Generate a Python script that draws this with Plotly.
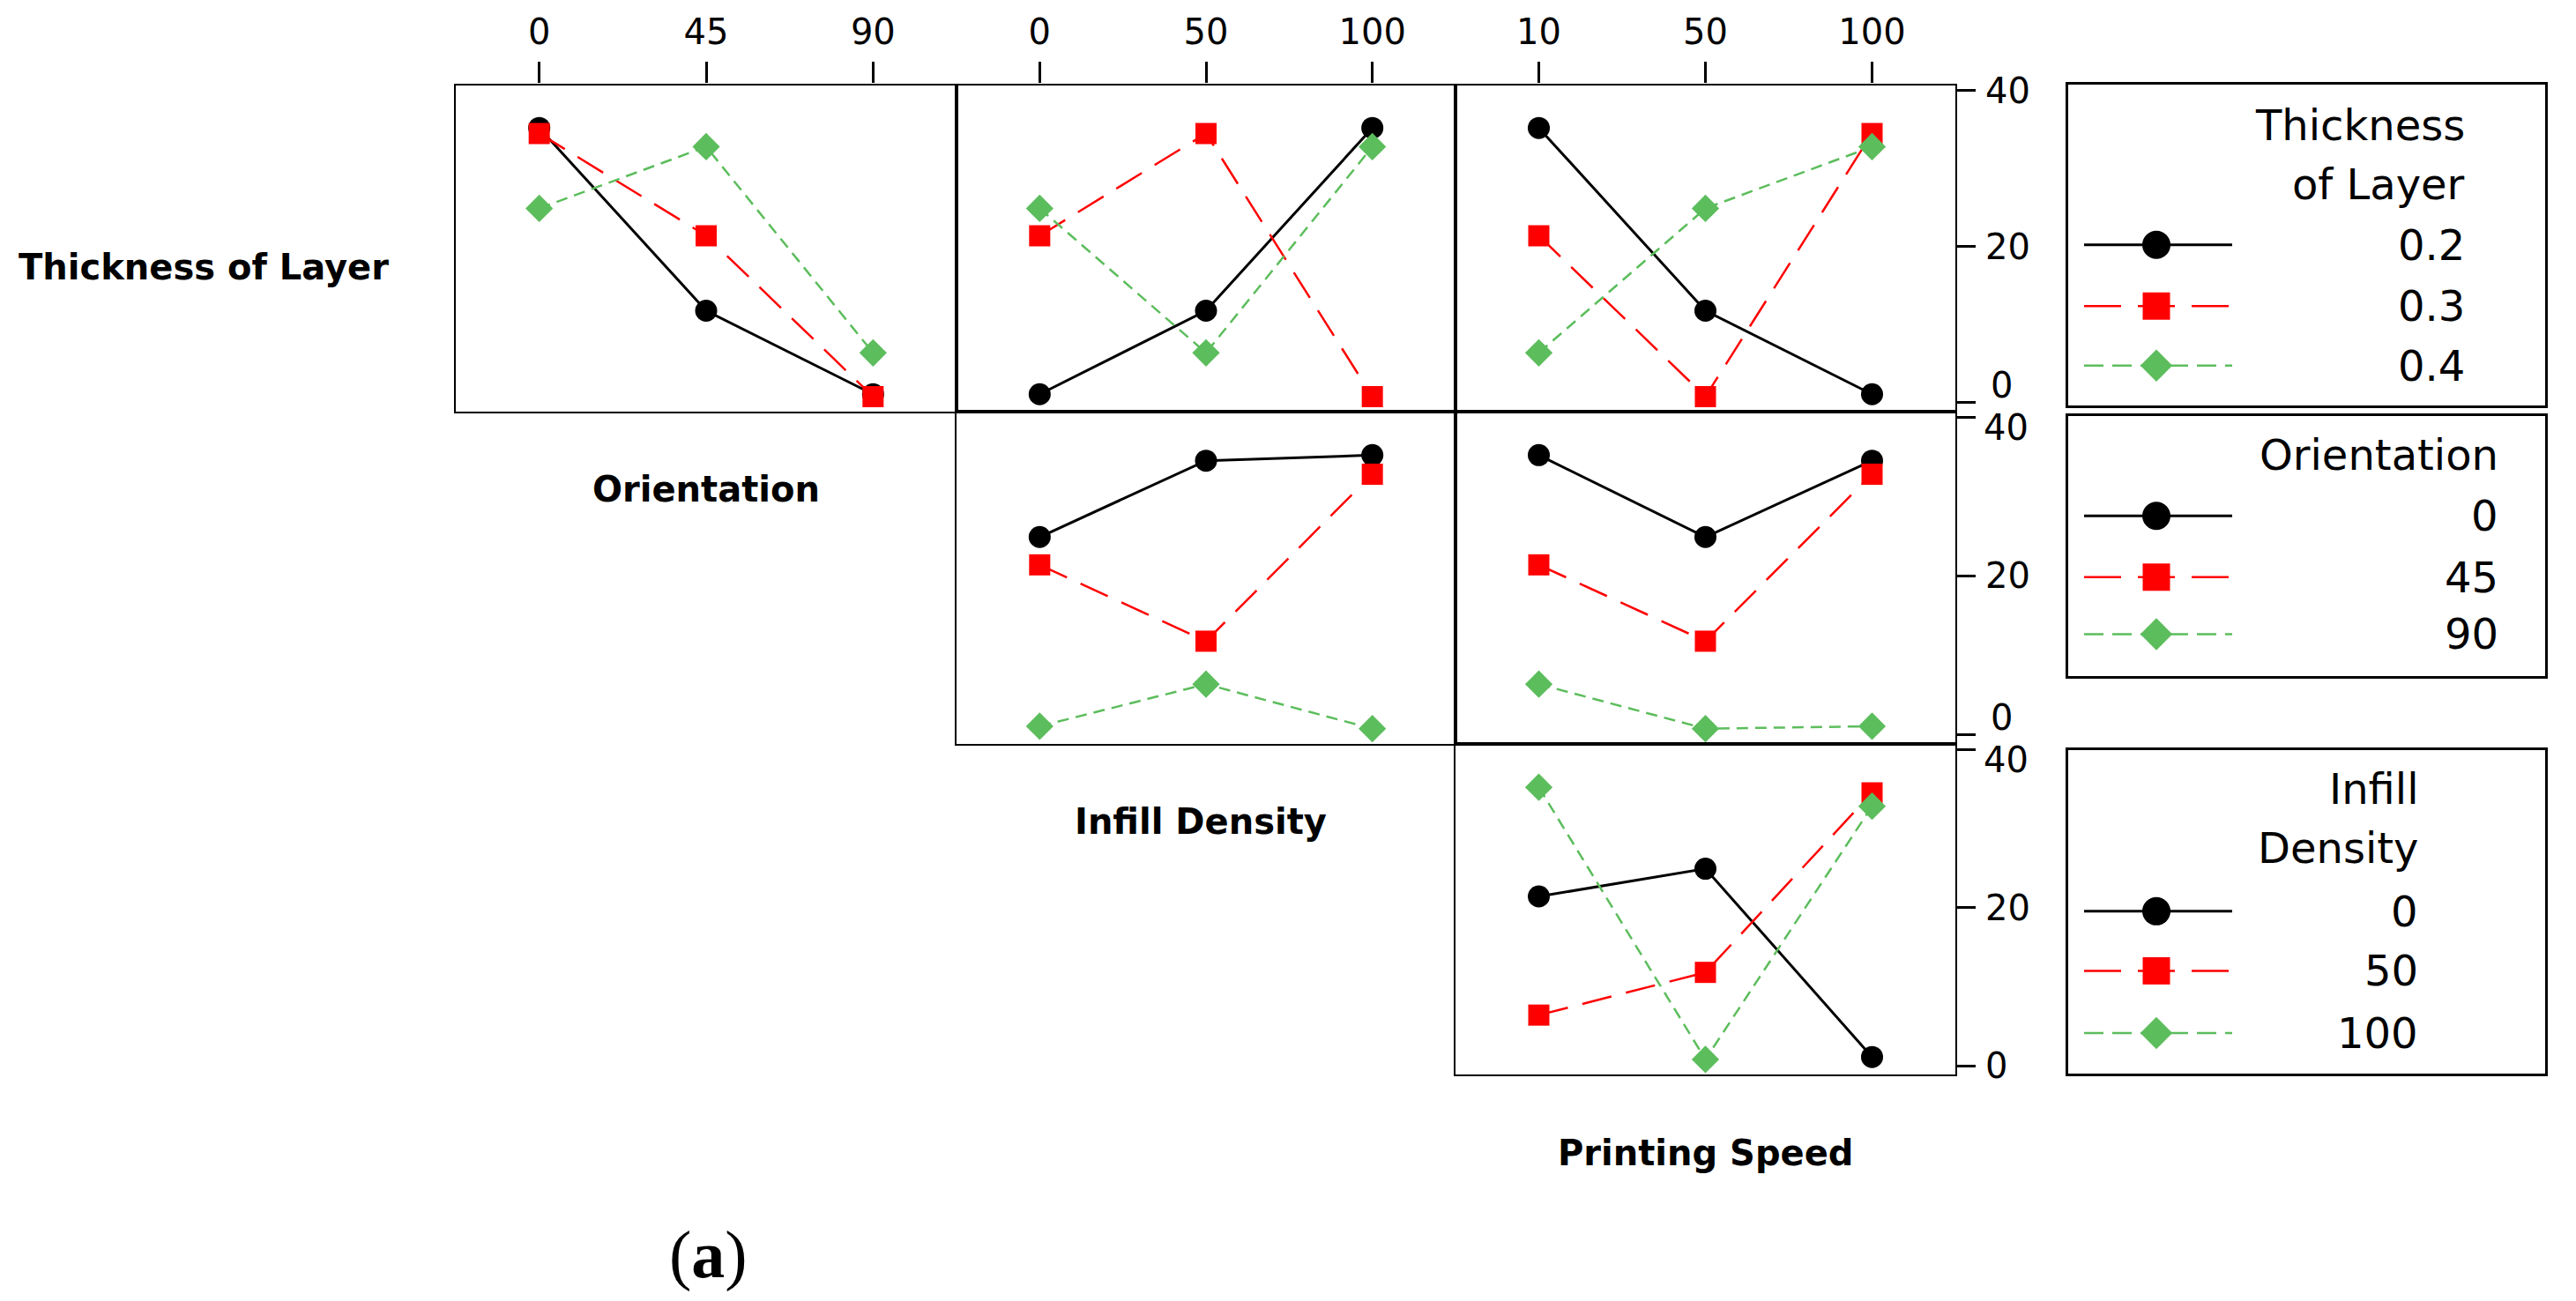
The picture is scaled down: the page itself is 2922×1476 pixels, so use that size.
import plotly.graph_objects as go

W, H = 2922, 1476          # browser window
BODY = 8                   # default page margin around the plot div
FW, FH = W - 2 * BODY, H - 2 * BODY

# ---------------- data ----------------
thickness_levels = ["0.2", "0.3", "0.4"]
orientation_levels = ["0", "45", "90"]
infill_levels = ["0", "50", "100"]
speed_levels = ["10", "50", "100"]

# Row 1 - series: Thickness of Layer (0.2, 0.3, 0.4)
thk_by_orientation = [[35.2, 11.8, 1.1], [34.5, 21.4, 0.8], [24.9, 32.8, 6.4]]
thk_by_infill = [[1.1, 11.8, 35.2], [21.4, 34.5, 0.8], [24.9, 6.4, 32.8]]
thk_by_speed = [[35.2, 11.8, 1.1], [21.4, 0.8, 34.5], [6.4, 24.9, 32.8]]
# Row 2 - series: Orientation (0, 45, 90)
ori_by_infill = [[24.9, 34.5, 35.2], [21.4, 11.8, 32.8], [1.1, 6.4, 0.8]]
ori_by_speed = [[35.2, 24.9, 34.5], [21.4, 11.8, 32.8], [6.4, 0.8, 1.1]]
# Row 3 - series: Infill Density (0, 50, 100)
inf_by_speed = [[21.4, 24.9, 1.1], [6.4, 11.8, 34.5], [35.2, 0.8, 32.8]]

y_tick_values = [0, 20, 40]
y_tick_labels = ["0", "20", "40"]
factor_names = ["Thickness of Layer", "Orientation", "Infill Density", "Printing Speed"]

# ---------------- styling ----------------
FONT = "DejaVu Sans"
STYLES = [
    dict(color="#000000", dash="solid", symbol="circle", size=25, lw=3,
         ldash="solid", lsize=32),
    dict(color="#FF0000", dash="34px,17px", symbol="square", size=24, lw=2.5,
         ldash="42px,19px", lsize=31),
    dict(color="#5CBD5C", dash="13px,8px", symbol="diamond", size=24, lw=2.5,
         ldash="22px,10px", lsize=28),
]

# positions in screen pixels
col_edges = [517, 1085, 1651, 2218]
row_edges = [81, 459, 844, 1227]
Y_RANGE = [-1.1, 40.7]
TICK_FONT = dict(family=FONT, size=40, color="black")


def fx(p):
    return (p - BODY) / FW


def fy(p):
    return 1 - (p - BODY) / FH


panels = [
    (0, 0, orientation_levels, thk_by_orientation),
    (0, 1, infill_levels, thk_by_infill),
    (0, 2, speed_levels, thk_by_speed),
    (1, 1, infill_levels, ori_by_infill),
    (1, 2, speed_levels, ori_by_speed),
    (2, 2, speed_levels, inf_by_speed),
]

fig = go.Figure()
layout = {}
annotations = []


def ax_names(i):
    s = "" if i == 1 else str(i)
    return "xaxis" + s, "yaxis" + s, "x" + s, "y" + s


idx = 0
for r, c, xcats, data in panels:
    idx += 1
    xa, ya, xr, yr = ax_names(idx)
    top_row = r == 0
    right_col = c == 2
    layout[xa] = dict(
        domain=[fx(col_edges[c]), fx(col_edges[c + 1])],
        anchor=yr, type="category", categoryorder="array", categoryarray=xcats,
        range=[-0.5, 2.5], side="top",
        showline=True, linewidth=2.2, linecolor="black", mirror=True,
        showgrid=False, zeroline=False,
        ticks="outside" if top_row else "", ticklen=24, tickwidth=2.5, tickcolor="black",
        showticklabels=top_row, tickfont=TICK_FONT, ticklabelstandoff=4,
    )
    # rows 1-2: the "0" label sits a little above its tick; rows 2-3: "40" a little below
    ticktext = list(y_tick_labels)
    if r < 2:
        ticktext[0] = ""
    if r > 0:
        ticktext[2] = ""
    layout[ya] = dict(
        domain=[fy(row_edges[r + 1]), fy(row_edges[r])],
        anchor=xr, range=Y_RANGE, side="right",
        showline=True, linewidth=2.2, linecolor="black", mirror=True,
        showgrid=False, zeroline=False,
        tickvals=y_tick_values, ticktext=ticktext,
        ticks="outside" if right_col else "", ticklen=21, tickwidth=2.5, tickcolor="black",
        showticklabels=right_col, tickfont=TICK_FONT, ticklabelstandoff=3,
    )
    if right_col and r < 2:
        annotations.append(dict(
            x=1, xref=xr + " domain", y=y_tick_values[0], yref=yr, xshift=38, yshift=20,
            text=y_tick_labels[0], showarrow=False, xanchor="left", yanchor="middle",
            font=TICK_FONT))
    if right_col and r > 0:
        annotations.append(dict(
            x=1, xref=xr + " domain", y=y_tick_values[2], yref=yr, xshift=30, yshift=-12,
            text=y_tick_labels[2], showarrow=False, xanchor="left", yanchor="middle",
            font=TICK_FONT))
    for k, vals in enumerate(data):
        st = STYLES[k]
        fig.add_trace(go.Scatter(
            x=xcats, y=vals, xaxis=xr, yaxis=yr, mode="lines+markers",
            line=dict(color=st["color"], width=st["lw"], dash=st["dash"]),
            marker=dict(color=st["color"], symbol=st["symbol"], size=st["size"],
                        line=dict(width=0)),
            showlegend=False, hoverinfo="skip"))

# ---------------- factor labels ----------------
label_font = dict(family=FONT, size=40, color="black")
label_pos = [(231, 292), (801, 549), (1362, 934), (1934, 1318)]
for name, (lx, ly) in zip(factor_names, label_pos):
    annotations.append(dict(x=fx(lx), y=fy(ly), xref="paper", yref="paper",
                            text="<b>%s</b>" % name, showarrow=False,
                            xanchor="center", yanchor="middle", font=label_font))
annotations.append(dict(x=fx(803), y=fy(1436), xref="paper", yref="paper", text="(<b>a</b>)",
                        showarrow=False, xanchor="center", yanchor="middle",
                        font=dict(family="Liberation Serif", size=76, color="black")))

# ---------------- legend boxes ----------------
LEG_X = [2346, 2887]
legends = [
    dict(top=80, bottom=452, title=["Thickness", "of Layer"], title_y=[47, 116],
         labels=thickness_levels, item_y=[186, 257, 326], text_right=452),
    dict(top=464, bottom=766, title=["Orientation"], title_y=[45],
         labels=orientation_levels, item_y=[116, 187, 253], text_right=490),
    dict(top=851, bottom=1226, title=["Infill", "Density"], title_y=[45, 114],
         labels=infill_levels, item_y=[187, 256, 328], text_right=399),
]
LINE_X0, MARK_X, LINE_X1 = 18, 100, 186
leg_font = dict(family=FONT, size=48, color="black")

for L in legends:
    idx += 1
    xa, ya, xr, yr = ax_names(idx)
    bw = LEG_X[1] - LEG_X[0]
    bh = L["bottom"] - L["top"]
    layout[xa] = dict(domain=[fx(LEG_X[0]), fx(LEG_X[1])], anchor=yr, range=[0, bw],
                      showline=True, linewidth=3, linecolor="black", mirror=True,
                      showgrid=False, zeroline=False, showticklabels=False, ticks="")
    layout[ya] = dict(domain=[fy(L["bottom"]), fy(L["top"])], anchor=xr, range=[bh, 0],
                      showline=True, linewidth=3, linecolor="black", mirror=True,
                      showgrid=False, zeroline=False, showticklabels=False, ticks="")
    for t, ty in zip(L["title"], L["title_y"]):
        annotations.append(dict(x=L["text_right"], y=ty, xref=xr, yref=yr, text=t,
                                showarrow=False, xanchor="right", yanchor="middle",
                                font=leg_font))
    for k, (lab, iy) in enumerate(zip(L["labels"], L["item_y"])):
        st = STYLES[k]
        fig.add_trace(go.Scatter(
            x=[LINE_X0, LINE_X1], y=[iy, iy], xaxis=xr, yaxis=yr, mode="lines",
            line=dict(color=st["color"], width=st["lw"], dash=st["ldash"]),
            showlegend=False, hoverinfo="skip"))
        fig.add_trace(go.Scatter(
            x=[MARK_X], y=[iy], xaxis=xr, yaxis=yr, mode="markers",
            marker=dict(color=st["color"], symbol=st["symbol"], size=st["lsize"],
                        line=dict(width=0)),
            showlegend=False, hoverinfo="skip"))
        annotations.append(dict(x=L["text_right"], y=iy, xref=xr, yref=yr, text=lab,
                                showarrow=False, xanchor="right", yanchor="middle",
                                font=leg_font))

fig.update_layout(
    width=FW, height=FH, autosize=False,
    margin=dict(l=0, r=0, t=0, b=0),
    paper_bgcolor="white", plot_bgcolor="white",
    showlegend=False, annotations=annotations, **layout)

fig.write_html("out.html")
